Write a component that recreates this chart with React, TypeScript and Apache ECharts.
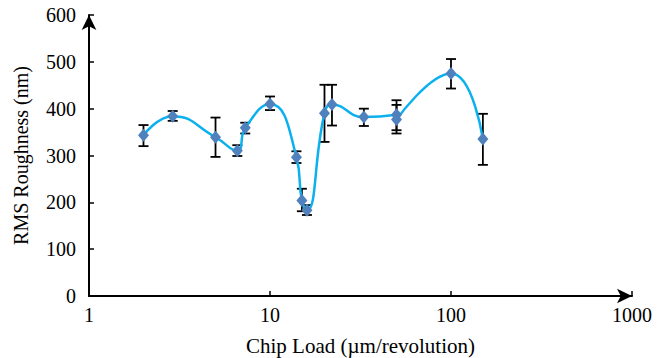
import React, { useEffect, useRef } from "react";
import * as echarts from "echarts";

const chipLoad = [2, 2.9, 5, 6.6, 7.3, 10, 14, 15, 16, 20, 22, 33, 50, 50, 100, 150];
const roughness = [343, 384, 339, 310, 359, 410, 296, 204, 183, 390, 409, 382, 387, 377, 475, 335];
const errLow = [320, 374, 297, 299, 347, 397, 284, 181, 173, 329, 364, 363, 354, 347, 443, 280];
const errHigh = [365, 395, 381, 322, 370, 426, 309, 229, 194, 451, 451, 400, 418, 408, 506, 389];
const yTicks = [0, 100, 200, 300, 400, 500, 600];
const xTicks = [1, 10, 100, 1000];

const FONT = "'Liberation Serif', 'Times New Roman', serif";

export default function App() {
  const ref = useRef<HTMLDivElement>(null);
  useEffect(() => {
    if (!ref.current) return;
    const chart = echarts.init(ref.current, null, { renderer: "svg" });
    const lineData = chipLoad.map((x, i) => [x, roughness[i]]);
    const errData = chipLoad.map((x, i) => [x, errLow[i], errHigh[i]]);
    chart.setOption({
      animation: false,
      backgroundColor: "#ffffff",
      textStyle: { fontFamily: FONT },
      grid: { left: 89, right: 25, top: 15, bottom: 62, containLabel: false, outerBoundsMode: "none" },
      xAxis: {
        type: "log",
        logBase: 10,
        min: xTicks[0],
        max: xTicks[xTicks.length - 1],
        name: "Chip Load (\u00b5m/revolution)",
        nameLocation: "middle",
        nameGap: 39,
        nameTextStyle: { fontFamily: FONT, fontSize: 21, color: "#000" },
        axisLine: {
          show: true,
          symbol: ["none", "arrow"],
          symbolSize: [11, 15],
          lineStyle: { color: "#000", width: 2 },
        },
        axisTick: { show: true, inside: true, length: 5, lineStyle: { color: "#000", width: 1.5 } },
        axisLabel: {
          fontFamily: FONT,
          fontSize: 20,
          color: "#000",
          margin: 9,
          formatter: (v: number) => String(Math.round(v)),
        },
        splitLine: { show: false },
        minorTick: { show: false },
      },
      yAxis: {
        type: "value",
        min: yTicks[0],
        max: yTicks[yTicks.length - 1],
        interval: 100,
        name: "RMS Roughness (nm)",
        nameLocation: "middle",
        nameGap: 58,
        nameTextStyle: { fontFamily: FONT, fontSize: 20, color: "#000" },
        axisLine: {
          show: true,
          symbol: ["none", "arrow"],
          symbolSize: [11, 15],
          lineStyle: { color: "#000", width: 2 },
        },
        axisTick: { show: true, inside: true, length: 5, lineStyle: { color: "#000", width: 1.5 } },
        axisLabel: { fontFamily: FONT, fontSize: 20, color: "#000", margin: 13 },
        splitLine: { show: false },
      },
      series: [
        {
          type: "custom",
          z: 1,
          data: errData,
          renderItem: (params: any, api: any) => {
            const x = api.value(0);
            const lo = api.coord([x, api.value(1)]);
            const hi = api.coord([x, api.value(2)]);
            const w = 5;
            const style = { stroke: "#000", lineWidth: 1.8 };
            return {
              type: "group",
              children: [
                { type: "line", shape: { x1: lo[0], y1: lo[1], x2: hi[0], y2: hi[1] }, style },
                { type: "line", shape: { x1: lo[0] - w, y1: lo[1], x2: lo[0] + w, y2: lo[1] }, style },
                { type: "line", shape: { x1: hi[0] - w, y1: hi[1], x2: hi[0] + w, y2: hi[1] }, style },
              ],
            };
          },
        },
        {
          type: "line",
          z: 2,
          data: lineData,
          smooth: 0.5,
          symbol: "diamond",
          symbolSize: [11, 13],
          showSymbol: true,
          lineStyle: { color: "#0BB0EE", width: 2.5 },
          itemStyle: { color: "#4F81BD" },
        },
      ],
    });
    return () => chart.dispose();
  }, []);
  return <div ref={ref} style={{ width: 657, height: 358, position: "absolute", left: 0, top: 0 }} />;
}
